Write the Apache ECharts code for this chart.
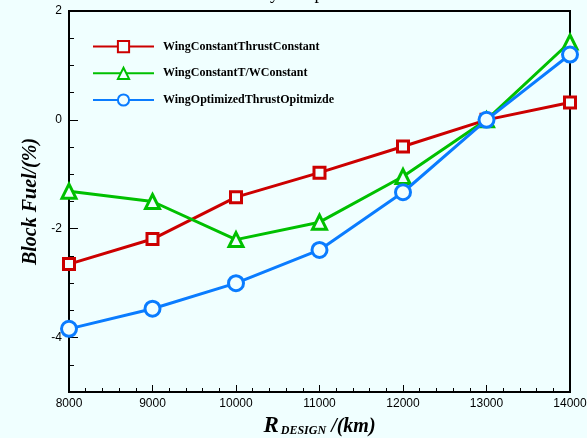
<!DOCTYPE html>
<html>
<head>
<meta charset="utf-8">
<script src="https://cdn.jsdelivr.net/npm/echarts@6/dist/echarts.min.js"></script>
<style>
  html, body { margin: 0; padding: 0; background: #F0FFFF; }
  #fuel_chart { width: 587px; height: 438px; }
</style>
</head>
<body>
<div id="fuel_chart"></div>
<script>
  // design range (km)
  var ranges = [8000, 9000, 10000, 11000, 12000, 13000, 14000];

  // block fuel change (%)
  var thrustConstant = [-2.65, -2.19, -1.42, -0.97, -0.49, 0, 0.32];
  var twConstant = [-1.31, -1.50, -2.20, -1.88, -1.04, 0, 1.43];
  var optimized = [-3.84, -3.47, -3.00, -2.39, -1.33, 0, 1.20];

  var seriesNames = ['WingConstantThrustConstant', 'WingConstantT/WConstant', 'WingOptimizedThrustOpitmizde'];
  var yMajorTicks = [-4, -2, 0, 2];

  var bg = '#F0FFFF';

  function pairs(vals) {
    return ranges.map(function (r, i) { return [r, vals[i]]; });
  }

  var fuelChart = echarts.init(document.getElementById('fuel_chart'), null, {
    renderer: 'canvas'
  });

  var fuelOptions = {
    backgroundColor: bg,
    animation: false,
    title: {
      text: 'Block Fuel Sensitivity comparison',
      left: 113,
      top: -20,
      textStyle: { fontFamily: 'Liberation Serif', fontSize: 18, fontWeight: 'normal', color: '#000' }
    },
    grid: {
      left: 69, right: 17, top: 11, bottom: 46,
      outerBoundsMode: 'none',
      containLabel: false,
      show: true, borderColor: '#000', borderWidth: 2, backgroundColor: 'transparent'
    },
    legend: {
      left: 92, top: 40,
      padding: 0,
      orient: 'vertical',
      itemWidth: 61, itemHeight: 14, itemGap: 13.5,
      data: seriesNames,
      textStyle: { fontFamily: 'Liberation Serif', fontWeight: 'bold', fontSize: 12, color: '#000', padding: [0, 0, 0, 4] }
    },
    xAxis: {
      type: 'value',
      min: 8000, max: 14000, interval: 1000,
      name: '{r|R}{s|DESIGN}{u| /(km)}',
      nameLocation: 'middle',
      nameGap: 17,
      nameTextStyle: {
        rich: {
          r: { fontFamily: 'Liberation Serif', fontStyle: 'italic', fontWeight: 'bold', fontSize: 23, color: '#000' },
          s: { fontFamily: 'Liberation Serif', fontStyle: 'italic', fontWeight: 'bold', fontSize: 12, color: '#000', padding: [10, 0, 0, 2] },
          u: { fontFamily: 'Liberation Serif', fontStyle: 'italic', fontWeight: 'bold', fontSize: 20, color: '#000' }
        }
      },
      axisLine: { onZero: false, lineStyle: { color: '#000', width: 2 } },
      axisTick: { inside: true, length: 7, lineStyle: { color: '#000', width: 1 } },
      minorTick: { show: true, splitNumber: 5, length: 4, lineStyle: { color: '#000', width: 1 } },
      axisLabel: {
        fontFamily: 'Liberation Sans', fontSize: 12, color: '#000', margin: 6,
        formatter: function (v) { return String(v); }
      },
      splitLine: { show: false }
    },
    yAxis: [{
      type: 'value',
      min: -5, max: 2, interval: 0.5,
      name: 'Block Fuel/(%)',
      nameLocation: 'middle',
      nameGap: 28,
      nameTextStyle: { fontFamily: 'Liberation Serif', fontStyle: 'italic', fontWeight: 'bold', fontSize: 20, color: '#000' },
      axisLine: { show: true, lineStyle: { color: '#000', width: 2 } },
      axisTick: { inside: true, length: 5, lineStyle: { color: '#000', width: 1 } },
      axisLabel: {
        fontFamily: 'Liberation Sans', fontSize: 12, color: '#000', margin: 7,
        formatter: function (v) { return yMajorTicks.indexOf(v) >= 0 ? String(v) : ''; }
      },
      splitLine: { show: false }
    }, {
      type: 'value',
      min: -5, max: 2,
      position: 'left',
      axisLine: { show: false },
      axisTick: { show: true, inside: true, length: 9, customValues: yMajorTicks, lineStyle: { color: '#000', width: 1 } },
      axisLabel: { show: false },
      splitLine: { show: false }
    }],
    series: [{
      name: seriesNames[0],
      type: 'line',
      data: pairs(thrustConstant),
      symbol: 'rect', symbolSize: 11,
      lineStyle: { color: '#CC0000', width: 3 },
      itemStyle: { color: bg, borderColor: '#CC0000', borderWidth: 3 },
      z: 3
    }, {
      name: seriesNames[1],
      type: 'line',
      data: pairs(twConstant),
      symbol: 'triangle', symbolSize: 14,
      lineStyle: { color: '#00C000', width: 3 },
      itemStyle: { color: bg, borderColor: '#00C000', borderWidth: 3 },
      z: 4
    }, {
      name: seriesNames[2],
      type: 'line',
      data: pairs(optimized),
      symbol: 'circle', symbolSize: 15,
      lineStyle: { color: '#0A7CFF', width: 3 },
      itemStyle: { color: bg, borderColor: '#0A7CFF', borderWidth: 3 },
      z: 5
    }]
  };

  if (fuelOptions && typeof fuelOptions === 'object') {
    fuelChart.setOption(fuelOptions);
  }

  window.addEventListener('resize', fuelChart.resize);
</script>
</body>
</html>
